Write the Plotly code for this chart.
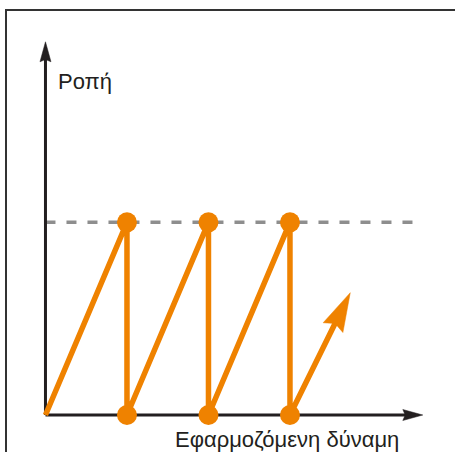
import numpy as np
import plotly.graph_objects as go

# Stick-slip torque profile: torque climbs to the breakaway limit, then drops to zero
origin = (0.0, 0.0)
peak_x = [1.0, 2.0, 3.0]
peak_y = [1.0, 1.0, 1.0]
base_x = [1.0, 2.0, 3.0]
base_y = [0.0, 0.0, 0.0]
torque_limit = 1.0
rise_end = (3.74, 0.635)          # last, still-rising segment ends in an arrow
x_axis_end = 4.63
y_axis_end = 1.937

y_label = "Ροπή"
x_label = "Εφαρμοζόμενη δύναμη"

ORANGE = "#EF8200"
AXIS = "#231F20"
DASH = "#8E8E8E"
FONT = "Liberation Sans, Arial, Helvetica, sans-serif"

W, H = 455, 452
x_range = [-0.558, 5.025]
y_range = [-0.192, 2.154]
sx = W / (x_range[1] - x_range[0])   # pixels per x unit
sy = H / (y_range[1] - y_range[0])   # pixels per y unit


def arrow_head(tip, tail, length_px, width_px, notch=0.12):
    """Polygon (data units) for a narrow arrow head pointing from tail to tip."""
    tx, ty = tip[0] * sx, tip[1] * sy
    dx, dy = tx - tail[0] * sx, ty - tail[1] * sy
    n = np.hypot(dx, dy)
    ux, uy = dx / n, dy / n
    px, py = -uy, ux
    bx, by = tx - ux * length_px, ty - uy * length_px
    nx, ny = tx - ux * length_px * (1 - notch), ty - uy * length_px * (1 - notch)
    pts = [
        (tx, ty),
        (bx + px * width_px / 2, by + py * width_px / 2),
        (nx, ny),
        (bx - px * width_px / 2, by - py * width_px / 2),
        (tx, ty),
    ]
    return [p[0] / sx for p in pts], [p[1] / sy for p in pts]


def shorten(tip, tail, px_len):
    """Point px_len pixels back from tip toward tail (data units)."""
    dx, dy = (tip[0] - tail[0]) * sx, (tip[1] - tail[1]) * sy
    n = np.hypot(dx, dy)
    return tip[0] - dx / n * px_len / sx, tip[1] - dy / n * px_len / sy


fig = go.Figure()

# breakaway torque level
fig.add_trace(go.Scatter(
    x=[origin[0], x_axis_end], y=[torque_limit, torque_limit], mode="lines",
    line=dict(color=DASH, width=3.5, dash="10px,11px"), hoverinfo="skip"))

# axes with arrow heads
fig.add_trace(go.Scatter(
    x=[origin[0], shorten((x_axis_end, 0), origin, 15)[0]], y=[0, 0], mode="lines",
    line=dict(color=AXIS, width=3), hoverinfo="skip"))
fig.add_trace(go.Scatter(
    x=[0, 0], y=[origin[1], shorten((0, y_axis_end), origin, 15)[1]], mode="lines",
    line=dict(color=AXIS, width=3), hoverinfo="skip"))
for tip in [(x_axis_end, 0.0), (0.0, y_axis_end)]:
    hx, hy = arrow_head(tip, origin, 20, 11)
    fig.add_trace(go.Scatter(x=hx, y=hy, mode="lines", fill="toself",
                             fillcolor=AXIS, line=dict(color=AXIS, width=0.5),
                             hoverinfo="skip"))

# sawtooth path
saw_x, saw_y = [origin[0]], [origin[1]]
for px_, py_, bx_, by_ in zip(peak_x, peak_y, base_x, base_y):
    saw_x += [px_, bx_]
    saw_y += [py_, by_]
last = (saw_x[-1], saw_y[-1])
stop = shorten(rise_end, last, 30)
saw_x.append(stop[0])
saw_y.append(stop[1])
fig.add_trace(go.Scatter(x=saw_x, y=saw_y, mode="lines",
                         line=dict(color=ORANGE, width=5.5), hoverinfo="skip"))
hx, hy = arrow_head(rise_end, last, 39, 22)
fig.add_trace(go.Scatter(x=hx, y=hy, mode="lines", fill="toself",
                         fillcolor=ORANGE, line=dict(color=ORANGE, width=0.5),
                         hoverinfo="skip"))

# slip points
fig.add_trace(go.Scatter(x=peak_x + base_x, y=peak_y + base_y, mode="markers",
                         marker=dict(color=ORANGE, size=20, line=dict(width=0)),
                         hoverinfo="skip"))

fig.add_annotation(x=0.125, y=1.731, xref="x", yref="y",
                   text=y_label, showarrow=False, xanchor="left", yanchor="middle",
                   font=dict(family=FONT, size=22, color="#231F20"))
fig.add_annotation(x=1.56, y=-0.128, xref="x", yref="y",
                   text=x_label, showarrow=False, xanchor="left", yanchor="middle",
                   font=dict(family=FONT, size=22, color="#231F20"))

# outer frame (opens past the right and bottom edges)
fig.add_shape(type="rect", xref="paper", yref="paper",
              x0=6 / W, x1=1.05, y0=-0.05, y1=1 - 10 / H,
              line=dict(color="#333333", width=2), layer="below")

fig.update_layout(
    width=W, height=H, margin=dict(l=0, r=0, t=0, b=0),
    paper_bgcolor="white", plot_bgcolor="white", showlegend=False,
    xaxis=dict(range=x_range, visible=False, fixedrange=True),
    yaxis=dict(range=y_range, visible=False, fixedrange=True),
)

fig.write_html("out.html")
